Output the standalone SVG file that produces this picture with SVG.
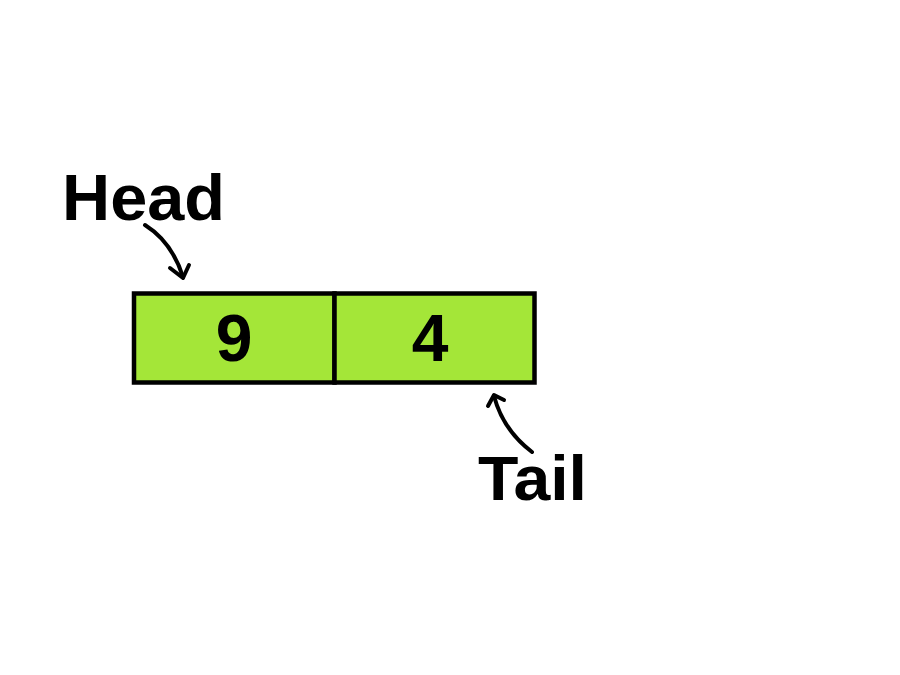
<svg xmlns="http://www.w3.org/2000/svg" width="900" height="675" viewBox="0 0 900 675">
<style>
.lbl{font-family:"Liberation Sans",Arial,sans-serif;font-weight:bold;fill:#000}
.cell{fill:#a4e638;stroke:#000;stroke-width:4.5}
.arr{fill:none;stroke:#000;stroke-width:4;stroke-linecap:round;stroke-linejoin:round}
</style>
<rect width="900" height="675" fill="#fff"/>
<g id="node-9">
<rect class="cell" x="134" y="293.5" width="200.5" height="89"/>
<text class="lbl" x="234" y="361" font-size="66" text-anchor="middle">9</text>
</g>
<g id="node-4">
<rect class="cell" x="334.5" y="293.5" width="200" height="89"/>
<text class="lbl" x="430" y="361" font-size="66" text-anchor="middle">4</text>
</g>
<g id="head">
<text class="lbl" x="62" y="220" font-size="65" textLength="163" lengthAdjust="spacingAndGlyphs">Head</text>
</g>
<g id="tail">
<text class="lbl" x="478" y="500" font-size="63" textLength="109" lengthAdjust="spacingAndGlyphs">Tail</text>
</g>
<g id="connectors">
<path class="arr" d="M145,225 Q172,242 183,277"/>
<path class="arr" d="M170,268 L183,278 L189,265"/>
<path class="arr" d="M532,452 Q503,430 494,396"/>
<path class="arr" d="M488,406 L494,395 L504,400"/>
</g>
</svg>
